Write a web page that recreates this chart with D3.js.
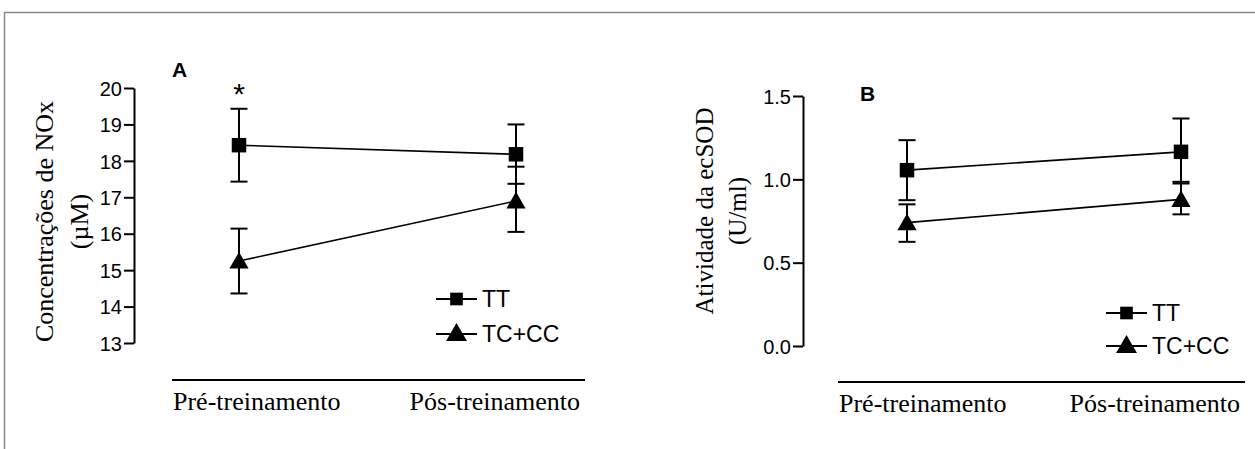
<!DOCTYPE html>
<html>
<head>
<meta charset="utf-8">
<script src="https://cdn.jsdelivr.net/npm/d3@7/dist/d3.min.js"></script>
<style>
  html, body { margin: 0; padding: 0; background: #fff; }
  svg { display: block; }
</style>
</head>
<body>
<script>
// ---------- data ----------
const categories = ["Pré-treinamento", "Pós-treinamento"];
const seriesNames = ["TT", "TC+CC"];

// Panel A : NOx (µM)
const noxTicks = [13, 14, 15, 16, 17, 18, 19, 20];
const noxTT_mean  = [18.43, 18.18];
const noxTT_upper = [19.43, 19.00];
const noxTT_lower = [17.43, 17.37];
const noxTC_mean  = [15.25, 16.90];
const noxTC_upper = [16.14, 17.84];
const noxTC_lower = [14.36, 16.05];

// Panel B : ecSOD (U/ml)
const sodTicks = [0.0, 0.5, 1.0, 1.5];
const sodTT_mean  = [1.055, 1.165];
const sodTT_upper = [1.235, 1.365];
const sodTT_lower = [0.875, 0.975];
const sodTC_mean  = [0.740, 0.880];
const sodTC_upper = [0.850, 0.985];
const sodTC_lower = [0.625, 0.790];

// ---------- drawing ----------
const W = 1255, H = 449;
const svg = d3.select("body").append("svg").attr("width", W).attr("height", H);
const SANS = "'Liberation Sans', Arial, sans-serif";
const SERIF = "'Liberation Serif', 'Times New Roman', serif";

// outer frame (top + left edges)
svg.append("path")
  .attr("d", `M4.5,${H} V12.5 H${W}`)
  .attr("fill", "none").attr("stroke", "#8a8a8a").attr("stroke-width", 1.5);

function panel(cfg) {
  const g = svg.append("g");
  const x = d3.scalePoint().domain(categories).range(cfg.xRange);
  const y = d3.scaleLinear().domain(cfg.yDomain).range(cfg.yRange);

  // y axis
  const ax = g.append("g")
    .attr("transform", `translate(${cfg.axisX},0)`)
    .call(d3.axisLeft(y).tickValues(cfg.ticks).tickFormat(cfg.fmt)
      .tickSizeOuter(0).tickSizeInner(10).tickPadding(2));
  ax.select(".domain").attr("stroke", "#000").attr("stroke-width", 2);
  ax.selectAll(".tick line").attr("stroke", "#000").attr("stroke-width", 2);
  ax.selectAll(".tick text")
    .attr("font-family", SANS).attr("font-size", 20).attr("fill", "#000")
    .attr("dy", "0.36em");

  // y title (two lines)
  const cy = (cfg.yRange[0] + cfg.yRange[1]) / 2 + cfg.titleDy;
  cfg.title.forEach((t, i) => {
    g.append("text")
      .attr("transform", `translate(${cfg.titleX[i]},${cy}) rotate(-90)`)
      .attr("text-anchor", "middle")
      .attr("font-family", SERIF).attr("font-size", cfg.titleSize)
      .attr("fill", "#000").text(t);
  });

  // x axis line (detached)
  g.append("line")
    .attr("x1", cfg.xLine[0]).attr("x2", cfg.xLine[1])
    .attr("y1", cfg.xLineY).attr("y2", cfg.xLineY)
    .attr("stroke", "#000").attr("stroke-width", 2);

  // category labels
  categories.forEach((c, i) => {
    g.append("text")
      .attr("x", i === 0 ? cfg.xLine[0] + 1 : cfg.xLine[1] - 5)
      .attr("y", cfg.xLineY + 30)
      .attr("text-anchor", i === 0 ? "start" : "end")
      .attr("font-family", SERIF).attr("font-size", 26).attr("fill", "#000")
      .text(c);
  });

  // panel letter
  g.append("text")
    .attr("x", cfg.letterPos[0]).attr("y", cfg.letterPos[1])
    .attr("font-family", SANS).attr("font-weight", "bold").attr("font-size", 21)
    .attr("fill", "#000").text(cfg.letter);

  const series = cfg.series;
  const line = d3.line().x((d, i) => x(categories[i])).y(d => y(d));

  // error bars
  series.forEach(s => {
    categories.forEach((c, i) => {
      const cx = x(c);
      g.append("line").attr("x1", cx).attr("x2", cx)
        .attr("y1", y(s.upper[i])).attr("y2", y(s.lower[i]))
        .attr("stroke", "#000").attr("stroke-width", 2);
      [s.upper[i], s.lower[i]].forEach(v => {
        g.append("line").attr("x1", cx - 8.5).attr("x2", cx + 8.5)
          .attr("y1", y(v)).attr("y2", y(v))
          .attr("stroke", "#000").attr("stroke-width", 2);
      });
    });
  });

  // connecting lines
  series.forEach(s => {
    g.append("path").datum(s.mean).attr("d", line)
      .attr("fill", "none").attr("stroke", "#000").attr("stroke-width", 1.6);
  });

  // markers
  const sq = d3.symbol().type(d3.symbolSquare).size(210);
  const tri = d3.symbol().type(d3.symbolTriangle).size(160);
  series.forEach((s, k) => {
    s.mean.forEach((v, i) => {
      g.append("path")
        .attr("d", k === 0 ? sq() : tri())
        .attr("transform", `translate(${x(categories[i])},${y(v) + (k === 0 ? 0 : 2)})`)
        .attr("fill", "#000");
    });
  });

  // significance marker
  if (cfg.star) {
    g.append("text")
      .attr("x", x(categories[cfg.star.index]))
      .attr("y", y(series[0].upper[cfg.star.index]) - 5)
      .attr("text-anchor", "middle")
      .attr("font-family", SANS).attr("font-size", 30).attr("fill", "#000")
      .text("*");
  }

  // legend
  series.forEach((s, k) => {
    const ly = cfg.legendPos[1] + k * cfg.legendGap;
    const lx = cfg.legendPos[0];
    g.append("line").attr("x1", lx).attr("x2", lx + 41)
      .attr("y1", ly).attr("y2", ly)
      .attr("stroke", "#000").attr("stroke-width", 2);
    g.append("path")
      .attr("d", k === 0 ? d3.symbol().type(d3.symbolSquare).size(160)() : d3.symbol().type(d3.symbolTriangle).size(190)())
      .attr("transform", `translate(${lx + 20.5},${ly + (k === 0 ? 0 : 1)})`)
      .attr("fill", "#000");
    g.append("text")
      .attr("x", lx + 46).attr("y", ly).attr("dy", "0.36em")
      .attr("font-family", SANS).attr("font-size", 23).attr("fill", "#000")
      .text(seriesNames[k]);
  });
}

panel({
  xRange: [239, 516], yDomain: [13, 20], yRange: [343, 88],
  axisX: 134, ticks: noxTicks, fmt: d3.format("d"),
  title: ["Concentrações de NOx", "(µM)"], titleX: [53, 88], titleSize: 26, titleDy: 6,
  xLine: [172, 585], xLineY: 380,
  letter: "A", letterPos: [172, 77],
  series: [
    { mean: noxTT_mean, upper: noxTT_upper, lower: noxTT_lower },
    { mean: noxTC_mean, upper: noxTC_upper, lower: noxTC_lower }
  ],
  star: { index: 0 },
  legendPos: [436, 299], legendGap: 35
});

panel({
  xRange: [907, 1181], yDomain: [0, 1.5], yRange: [346, 96],
  axisX: 803, ticks: sodTicks, fmt: d3.format(".1f"),
  title: ["Atividade da ecSOD", "(U/ml)"], titleX: [713, 746], titleSize: 25, titleDy: -10,
  xLine: [838, 1245], xLineY: 382,
  letter: "B", letterPos: [860, 101],
  series: [
    { mean: sodTT_mean, upper: sodTT_upper, lower: sodTT_lower },
    { mean: sodTC_mean, upper: sodTC_upper, lower: sodTC_lower }
  ],
  star: null,
  legendPos: [1106, 313], legendGap: 33
});
</script>
</body>
</html>
